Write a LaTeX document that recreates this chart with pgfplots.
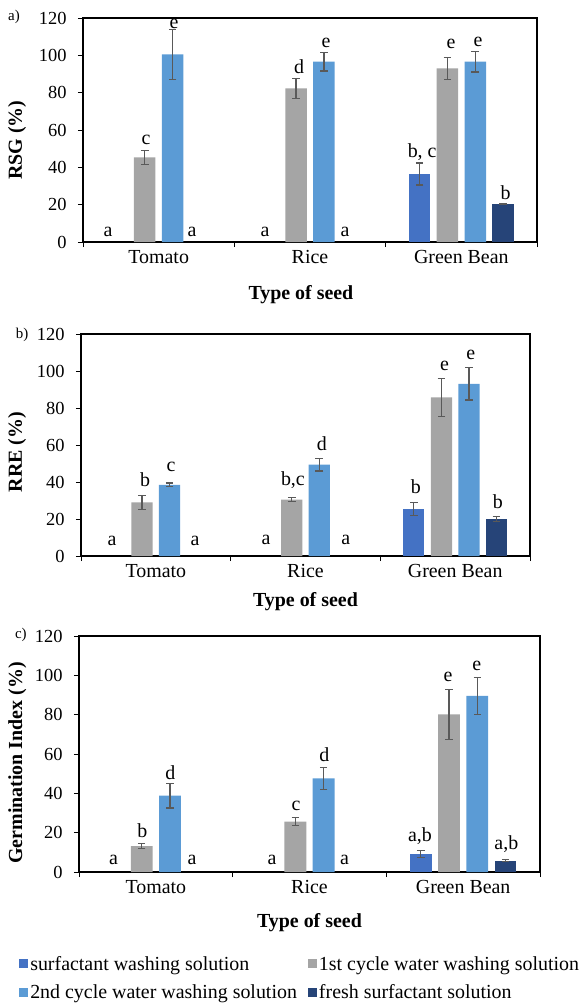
\documentclass[border=0pt]{standalone}
\usepackage{fontspec}
\setmainfont{Liberation Serif}
\usepackage{pgfplots}
\pgfplotsset{compat=1.18}
\definecolor{cSurf}{HTML}{4472C4}
\definecolor{cFirst}{HTML}{A5A5A5}
\definecolor{cSecond}{HTML}{5B9BD5}
\definecolor{cFresh}{HTML}{264478}
\definecolor{errc}{HTML}{595959}
\pgfplotsset{
  panel/.style={
    scale only axis, clip=false, ybar, bar width=0.142, bar shift=0pt,
    xmin=-0.5, xmax=2.5, ymin=0, ymax=120,
    ytick={0,20,...,120},
    xtick={-0.5,0.5,1.5,2.5}, x tick label as interval,
    xticklabels={Tomato,Rice,Green Bean},
    xtick pos=lower, ytick pos=left,
    tick align=outside, major tick length=5bp,
    tick style={black, line width=1bp},
    axis line style={line width=1.1bp},
    /pgf/number format/assume math mode=true,
    yticklabel style={font=\fontsize{18.5}{20}\selectfont, xshift=-8bp},
    xticklabel style={font=\fontsize{20}{22}\selectfont},
    label style={font=\fontsize{20}{22}\selectfont\bfseries},
    xlabel={Type of seed},
    error bars/y dir=both, error bars/y explicit,
    error bars/error bar style={draw=errc, line width=1.2bp},
    error bars/error mark options={draw=errc, rotate=90, mark size=3.8bp, line width=1.2bp}
  },
}
\tikzset{
  lab/.style={font=\fontsize{20}{22}\selectfont},
  plab/.style={font=\fontsize{15}{16}\selectfont},
}
\begin{document}
\begin{tikzpicture}
\useasboundingbox (0,0) rectangle (582bp,-1004bp);
% ---------------- panel a ----------------
\begin{axis}[panel, width=454bp, height=224bp, at={(83bp,-242bp)}, anchor=south west,
  ylabel={RSG (\%)},
  ylabel style={at={(axis description cs:-0.145,0.455)}, anchor=center},
  xlabel style={at={(axis description cs:0.48,-0.2366)}, anchor=center}]
\addplot[fill=cSurf, draw=none] table[x=x,y=y,y error=e] {
x y e
1.724 36.4 5.9
};
\addplot[fill=cFirst, draw=none] table[x=x,y=y,y error=e] {
x y e
-0.092 45.4 3.8
0.908 82.3 5.3
1.908 93.0 5.8
};
\addplot[fill=cSecond, draw=none] table[x=x,y=y,y error=e] {
x y e
0.092 100.5 13.4
1.092 96.6 5.0
2.092 96.6 5.5
};
\addplot[fill=cFresh, draw=none] table[x=x,y=y,y error=e] {
x y e
2.276 20.2 0.3
};
\node[lab] at (axis cs:-0.335,5.3) {a};
\node[lab] at (axis cs:-0.084,54.6) {c};
\node[lab] at (axis cs:0.101,116.8) {e};
\node[lab] at (axis cs:0.220,5.3) {a};
\node[lab] at (axis cs:0.703,5.3) {a};
\node[lab] at (axis cs:0.928,93.9) {d};
\node[lab] at (axis cs:1.106,106.4) {e};
\node[lab] at (axis cs:1.232,5.3) {a};
\node[lab] at (axis cs:1.741,48.4) {b, c};
\node[lab] at (axis cs:1.932,105.9) {e};
\node[lab] at (axis cs:2.111,107.0) {e};
\node[lab] at (axis cs:2.293,26.2) {b};
\node[plab] at (axis description cs:-0.152,1.004) {a)};
\end{axis}
% ---------------- panel b ----------------
\begin{axis}[panel, width=449bp, height=222bp, at={(81bp,-556bp)}, anchor=south west,
  ylabel={RRE (\%)},
  ylabel style={at={(axis description cs:-0.1425,0.468)}, anchor=center},
  xlabel style={at={(axis description cs:0.5,-0.207)}, anchor=center}]
\addplot[fill=cSurf, draw=none] table[x=x,y=y,y error=e] {
x y e
1.724 25.4 3.6
};
\addplot[fill=cFirst, draw=none] table[x=x,y=y,y error=e] {
x y e
-0.092 29.0 3.9
0.908 30.5 1.0
1.908 85.8 10.3
};
\addplot[fill=cSecond, draw=none] table[x=x,y=y,y error=e] {
x y e
0.092 38.5 1.0
1.092 49.4 3.5
2.092 93.0 8.7
};
\addplot[fill=cFresh, draw=none] table[x=x,y=y,y error=e] {
x y e
2.276 20.0 1.5
};
\node[lab] at (axis cs:-0.293,8.3) {a};
\node[lab] at (axis cs:-0.072,41.0) {b};
\node[lab] at (axis cs:0.101,48.3) {c};
\node[lab] at (axis cs:0.262,8.3) {a};
\node[lab] at (axis cs:0.736,8.6) {a};
\node[lab] at (axis cs:0.916,41.0) {b,c};
\node[lab] at (axis cs:1.110,60.5) {d};
\node[lab] at (axis cs:1.270,8.6) {a};
\node[lab] at (axis cs:1.738,37.5) {b};
\node[lab] at (axis cs:1.929,103.0) {e};
\node[lab] at (axis cs:2.105,108.6) {e};
\node[lab] at (axis cs:2.286,29.4) {b};
\node[plab] at (axis description cs:-0.131,0.995) {b)};
\end{axis}
% ---------------- panel c ----------------
\begin{axis}[panel, width=461bp, height=236bp, at={(79bp,-872bp)}, anchor=south west,
  ylabel={Germination Index (\%)},
  ylabel style={at={(axis description cs:-0.134,0.462)}, anchor=center},
  xlabel style={at={(axis description cs:0.5,-0.216)}, anchor=center},
  legend columns=2,
  legend style={at={(axis description cs:-0.130,-0.347)}, anchor=north west,
    draw=none, fill=none, inner sep=0pt, row sep=9bp,
    font=\fontsize{20}{22}\selectfont,
    nodes={inner sep=2bp, anchor=west},
    /tikz/every even column/.append style={column sep=9bp}},
  legend image code/.code={\fill[#1,draw=none] (0bp,-4.5bp) rectangle (9bp,4.5bp);}]
\addplot[fill=cSurf, draw=none] table[x=x,y=y,y error=e] {
x y e
1.724 9.2 1.9
};
\addlegendentry{surfactant washing solution}
\addplot[fill=cFirst, draw=none] table[x=x,y=y,y error=e] {
x y e
-0.092 13.2 1.4
0.908 25.6 2.1
1.908 80.2 12.7
};
\addlegendentry{1st cycle water washing solution}
\addplot[fill=cSecond, draw=none] table[x=x,y=y,y error=e] {
x y e
0.092 38.8 6.3
1.092 47.6 5.6
2.092 89.5 9.6
};
\addlegendentry{2nd cycle water washing solution}
\addplot[fill=cFresh, draw=none] table[x=x,y=y,y error=e] {
x y e
2.276 5.8 0.6
};
\addlegendentry{fresh surfactant solution}
\node[lab] at (axis cs:-0.276,6.4) {a};
\node[lab] at (axis cs:-0.088,20.8) {b};
\node[lab] at (axis cs:0.095,50.5) {d};
\node[lab] at (axis cs:0.235,6.4) {a};
\node[lab] at (axis cs:0.756,6.4) {a};
\node[lab] at (axis cs:0.912,33.6) {c};
\node[lab] at (axis cs:1.096,59.5) {d};
\node[lab] at (axis cs:1.228,6.4) {a};
\node[lab] at (axis cs:1.719,18.0) {a,b};
\node[lab] at (axis cs:1.901,99.0) {e};
\node[lab] at (axis cs:2.088,104.9) {e};
\node[lab] at (axis cs:2.281,14.2) {a,b};
\node[plab] at (axis description cs:-0.126,1.004) {c)};
\end{axis}
\end{tikzpicture}
\end{document}
